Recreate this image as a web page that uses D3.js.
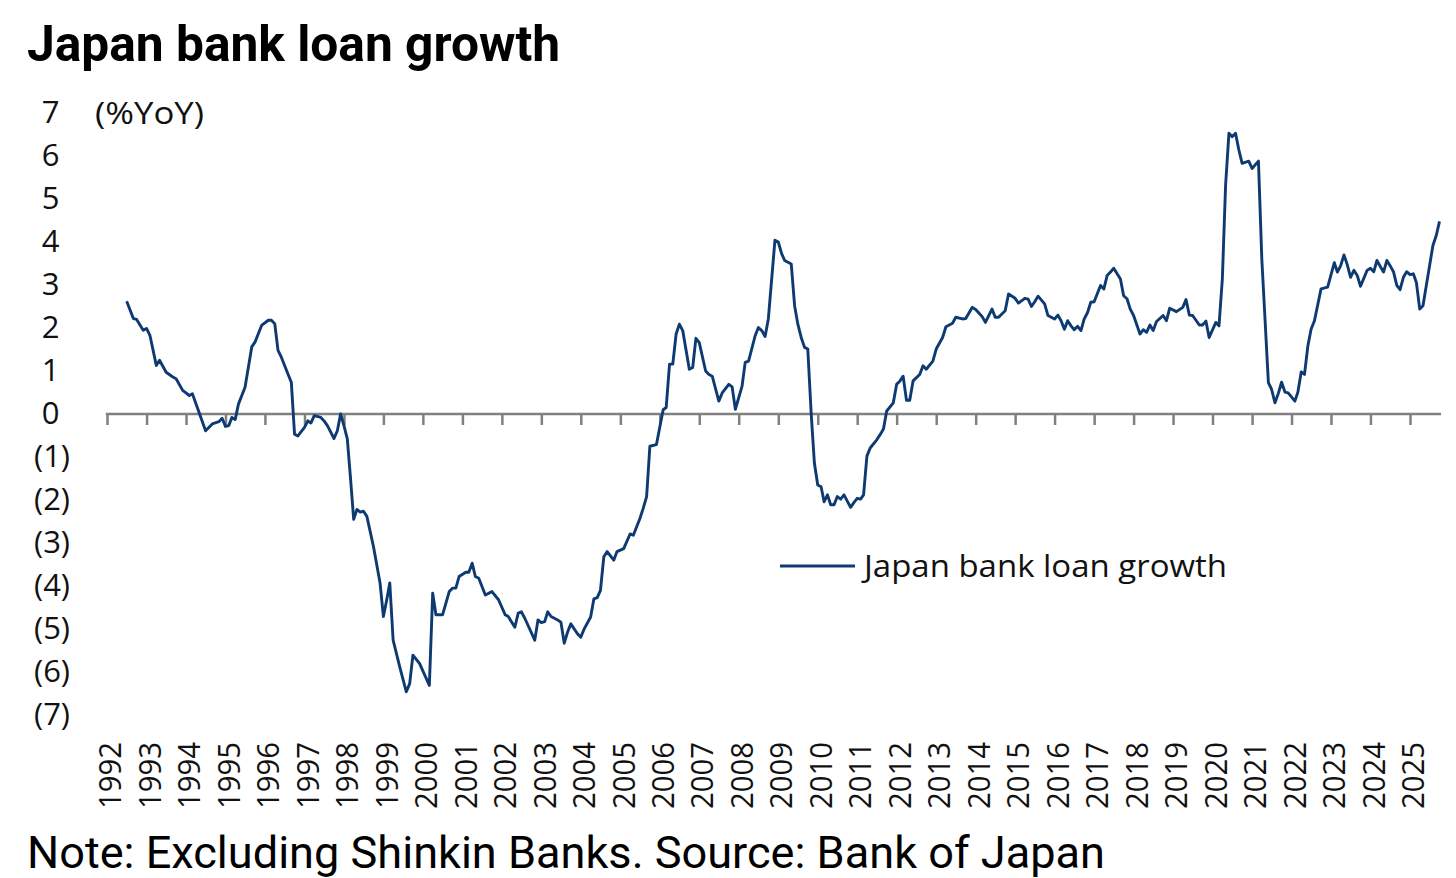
<!DOCTYPE html>
<html><head><meta charset="utf-8">
<script src="https://cdn.jsdelivr.net/npm/d3@7"></script>
<style>body{margin:0;background:#fff}svg{display:block}</style>
</head><body><svg id="c" width="1456" height="878"></svg>
<script>
const months = ["1992-07","1992-09","1992-10","1992-12","1993-01","1993-02","1993-04","1993-05","1993-07","1993-09","1993-10","1993-12","1994-02","1994-03","1994-05","1994-07","1994-09","1994-11","1994-12","1995-01","1995-02","1995-03","1995-04","1995-05","1995-07","1995-09","1995-10","1995-12","1996-02","1996-03","1996-04","1996-05","1996-06","1996-08","1996-09","1996-10","1996-11","1997-01","1997-02","1997-03","1997-04","1997-06","1997-07","1997-08","1997-10","1997-11","1997-12","1998-01","1998-02","1998-03","1998-04","1998-05","1998-06","1998-07","1998-08","1998-10","1998-12","1999-01","1999-02","1999-03","1999-04","1999-06","1999-08","1999-09","1999-10","1999-12","2000-03","2000-04","2000-05","2000-07","2000-09","2000-10","2000-11","2000-12","2001-02","2001-03","2001-04","2001-05","2001-06","2001-08","2001-10","2001-12","2002-02","2002-03","2002-05","2002-06","2002-07","2002-08","2002-11","2002-12","2003-01","2003-02","2003-03","2003-04","2003-06","2003-07","2003-08","2003-09","2003-10","2003-12","2004-01","2004-02","2004-04","2004-05","2004-06","2004-07","2004-08","2004-09","2004-11","2004-12","2005-02","2005-04","2005-05","2005-07","2005-08","2005-09","2005-10","2005-12","2006-01","2006-02","2006-03","2006-04","2006-05","2006-06","2006-07","2006-08","2006-10","2006-11","2006-12","2007-01","2007-03","2007-04","2007-05","2007-07","2007-08","2007-10","2007-11","2007-12","2008-02","2008-03","2008-04","2008-06","2008-07","2008-08","2008-09","2008-10","2008-12","2009-01","2009-02","2009-03","2009-05","2009-06","2009-07","2009-08","2009-09","2009-10","2009-11","2009-12","2010-01","2010-02","2010-03","2010-04","2010-05","2010-06","2010-07","2010-08","2010-09","2010-11","2010-12","2011-01","2011-02","2011-03","2011-04","2011-05","2011-07","2011-08","2011-09","2011-10","2011-12","2012-01","2012-02","2012-03","2012-04","2012-05","2012-06","2012-08","2012-09","2012-10","2012-12","2013-01","2013-03","2013-04","2013-06","2013-07","2013-09","2013-10","2013-12","2014-01","2014-03","2014-04","2014-06","2014-07","2014-08","2014-10","2014-11","2015-01","2015-02","2015-04","2015-05","2015-06","2015-07","2015-08","2015-10","2015-11","2016-01","2016-02","2016-03","2016-04","2016-05","2016-06","2016-07","2016-08","2016-09","2016-10","2016-11","2016-12","2017-01","2017-03","2017-04","2017-05","2017-06","2017-07","2017-09","2017-10","2017-11","2017-12","2018-01","2018-03","2018-04","2018-05","2018-06","2018-07","2018-08","2018-10","2018-11","2018-12","2019-02","2019-04","2019-05","2019-06","2019-07","2019-09","2019-10","2019-11","2019-12","2020-02","2020-03","2020-04","2020-05","2020-06","2020-07","2020-08","2020-09","2020-10","2020-12","2021-01","2021-03","2021-04","2021-06","2021-07","2021-08","2021-09","2021-10","2021-11","2021-12","2022-02","2022-03","2022-04","2022-05","2022-06","2022-07","2022-08","2022-10","2022-12","2023-02","2023-03","2023-04","2023-05","2023-06","2023-07","2023-08","2023-09","2023-10","2023-12","2024-01","2024-02","2024-03","2024-05","2024-06","2024-07","2024-08","2024-09","2024-10","2024-11","2024-12","2025-01","2025-02","2025-03","2025-04","2025-05","2025-07","2025-08","2025-09","2025-10"];
const loanGrowth = [2.62,2.22,2.20,1.95,1.99,1.83,1.13,1.25,0.97,0.86,0.82,0.55,0.43,0.47,0.04,-0.39,-0.23,-0.18,-0.10,-0.29,-0.27,-0.08,-0.13,0.23,0.62,1.56,1.67,2.06,2.18,2.18,2.10,1.48,1.32,0.93,0.74,-0.47,-0.51,-0.31,-0.16,-0.21,-0.04,-0.08,-0.16,-0.27,-0.57,-0.39,0.00,-0.27,-0.58,-1.44,-2.45,-2.22,-2.28,-2.26,-2.38,-3.08,-3.93,-4.71,-4.32,-3.93,-5.26,-5.88,-6.46,-6.27,-5.61,-5.80,-6.31,-4.17,-4.67,-4.67,-4.13,-4.05,-4.05,-3.78,-3.68,-3.68,-3.47,-3.78,-3.82,-4.21,-4.13,-4.32,-4.67,-4.71,-4.96,-4.63,-4.60,-4.75,-5.26,-4.79,-4.85,-4.83,-4.60,-4.71,-4.79,-4.84,-5.33,-5.07,-4.88,-5.11,-5.19,-5.00,-4.72,-4.30,-4.27,-4.10,-3.32,-3.20,-3.40,-3.20,-3.13,-2.79,-2.82,-2.43,-2.19,-1.92,-0.75,-0.71,-0.30,0.10,0.15,1.16,1.16,1.86,2.09,1.94,1.04,1.08,1.76,1.66,1.00,0.92,0.88,0.30,0.49,0.69,0.63,0.11,0.65,1.20,1.23,1.82,2.01,1.94,1.80,2.21,4.04,4.00,3.73,3.57,3.49,2.52,2.09,1.78,1.55,1.51,0.03,-1.14,-1.65,-1.69,-2.04,-1.88,-2.11,-2.11,-1.92,-1.98,-1.88,-2.17,-2.06,-1.96,-1.98,-1.88,-0.98,-0.79,-0.60,-0.48,-0.35,0.07,0.26,0.69,0.77,0.88,0.32,0.32,0.77,0.92,1.12,1.04,1.23,1.51,1.78,2.03,2.11,2.25,2.21,2.22,2.48,2.43,2.27,2.13,2.44,2.25,2.25,2.40,2.79,2.69,2.58,2.69,2.67,2.50,2.61,2.74,2.56,2.29,2.21,2.30,2.17,1.97,2.17,2.05,1.96,2.04,1.94,2.21,2.36,2.60,2.61,2.99,2.91,3.22,3.30,3.39,3.14,2.75,2.68,2.44,2.29,1.86,1.96,1.90,2.07,1.94,2.15,2.29,2.17,2.46,2.38,2.48,2.66,2.30,2.29,2.07,2.07,2.16,1.78,2.13,2.05,3.14,5.32,6.53,6.45,6.53,6.14,5.83,5.88,5.71,5.88,3.61,0.73,0.57,0.26,0.48,0.74,0.51,0.49,0.30,0.51,0.98,0.92,1.58,1.97,2.17,2.91,2.95,3.52,3.30,3.45,3.70,3.47,3.18,3.34,3.22,2.97,3.34,3.39,3.31,3.57,3.30,3.57,3.45,3.31,2.99,2.89,3.18,3.31,3.24,3.26,3.06,2.44,2.52,3.45,3.92,4.15,4.48];
const yearLabels = d3.range(1992, 2026).map(String);
const yTickValues = d3.range(-7, 8);
const titleText = "Japan bank loan growth";
const unitText = "(%YoY)";
const legendText = "Japan bank loan growth";
const noteText = "Note: Excluding Shinkin Banks. Source: Bank of Japan";

const parse = d3.timeParse("%Y-%m");
const data = months.map((m, i) => ({date: parse(m), value: loanGrowth[i]}));
const yearDates = yearLabels.map(yy => parse(yy + "-01"));
const axisEnd = parse("2025-10");

const svg = d3.select("#c");
const lineColor = "#0e3a72";
const axisColor = "#808080";
const axisFont = "'Open Sans', 'DejaVu Sans', sans-serif";

const x = d3.scaleTime().domain([yearDates[0], yearDates[yearDates.length - 1]]).range([107, 1410]);
const y = d3.scaleLinear().domain([-7, 7]).range([715, 113]);

// title
svg.append("text").attr("x", 27).attr("y", 61)
  .attr("font-family", "Roboto, sans-serif").attr("font-weight", 700).attr("font-size", 50)
  .attr("fill", "#000").attr("textLength", 533).attr("lengthAdjust", "spacingAndGlyphs").text(titleText);

// y axis labels
const yAxis = svg.append("g").attr("transform", "translate(70,0)")
  .call(d3.axisLeft(y).tickValues(yTickValues).tickSize(0).tickPadding(0)
    .tickFormat(d => d < 0 ? `(${-d})` : `${d}`));
yAxis.select(".domain").remove();
yAxis.selectAll("text")
  .attr("font-family", axisFont).attr("font-size", 31).attr("fill", "#111")
  .attr("x", d => d < 0 ? 0 : -10.5);

svg.append("text").attr("x", 95).attr("y", y(7)).attr("dy", "0.35em")
  .attr("font-family", axisFont).attr("font-size", 31).attr("fill", "#111")
  .attr("textLength", 109).attr("lengthAdjust", "spacingAndGlyphs").text(unitText);

// x axis at zero
const xAxis = svg.append("g").attr("transform", `translate(0,${y(0)})`)
  .call(d3.axisBottom(x).tickValues(yearDates).tickSize(11).tickFormat(""));
xAxis.select(".domain").remove();
xAxis.selectAll(".tick line").attr("stroke", axisColor).attr("stroke-width", 2.5);
svg.append("line").attr("x1", x(yearDates[0]) - 1.2).attr("x2", x(axisEnd) + 1.5)
  .attr("y1", y(0)).attr("y2", y(0)).attr("stroke", axisColor).attr("stroke-width", 2.6);

// rotated year labels
svg.append("g").selectAll("text").data(yearDates).join("text")
  .attr("transform", d => `translate(${x(d) + 3},809) rotate(-90)`)
  .attr("dy", "0.36em")
  .attr("font-family", axisFont).attr("font-size", 31).attr("fill", "#111")
  .attr("textLength", 67).attr("lengthAdjust", "spacingAndGlyphs")
  .text((d, i) => yearLabels[i]);

// series line
svg.append("path").datum(data)
  .attr("fill", "none").attr("stroke", lineColor).attr("stroke-width", 2.9)
  .attr("stroke-linejoin", "round")
  .attr("d", d3.line().x(d => x(d.date)).y(d => y(d.value)));

// legend
svg.append("line").attr("x1", 780).attr("x2", 855).attr("y1", 566).attr("y2", 566)
  .attr("stroke", lineColor).attr("stroke-width", 2.9);
svg.append("text").attr("x", 864).attr("y", 577)
  .attr("font-family", axisFont).attr("font-size", 31).attr("fill", "#111")
  .attr("textLength", 363).attr("lengthAdjust", "spacingAndGlyphs").text(legendText);

// note
svg.append("text").attr("x", 27).attr("y", 868)
  .attr("font-family", "Roboto, sans-serif").attr("font-size", 45).attr("fill", "#000")
  .attr("textLength", 1078).attr("lengthAdjust", "spacingAndGlyphs").text(noteText);
</script></body></html>
